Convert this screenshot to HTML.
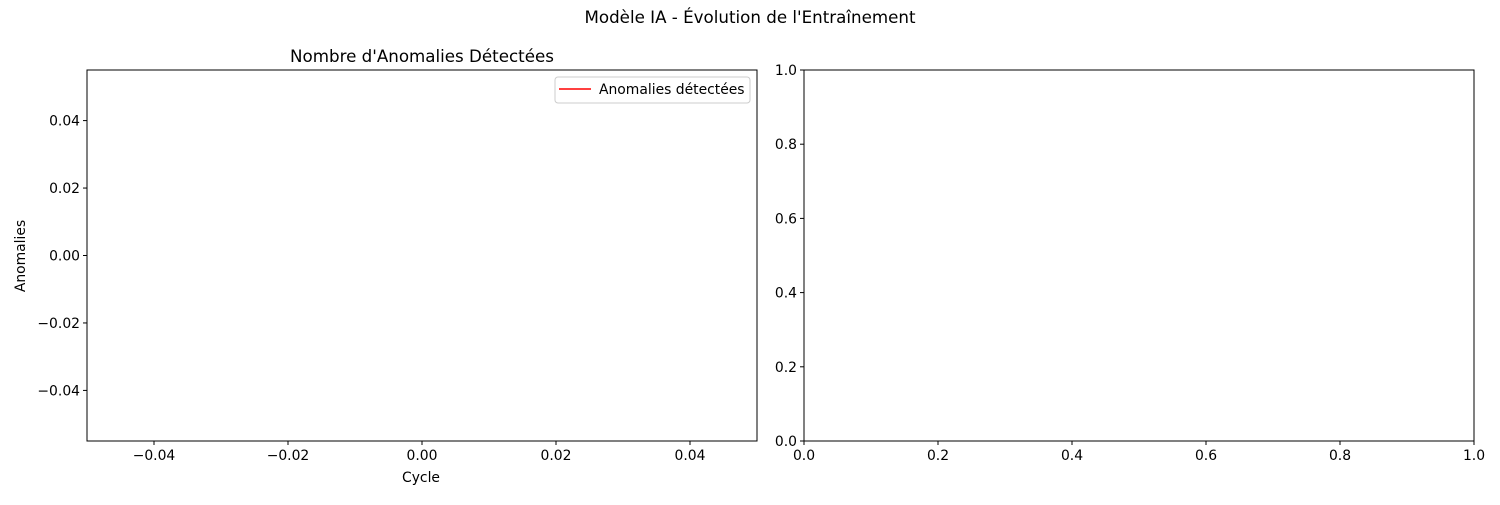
<!DOCTYPE html>
<html><head><meta charset="utf-8">
<style>
body{margin:0;background:#fff;font-family:"Liberation Sans","DejaVu Sans",sans-serif;}
svg text{font-family:"DejaVu Sans","Liberation Sans",sans-serif;fill:#000;}
</style></head>
<body>
<svg id="fig" width="1500" height="500" viewBox="0 0 1500 500">
<rect width="1500" height="500" fill="#fff"/>
<text x="750" y="23" font-size="16.7" text-anchor="middle">Modèle IA - Évolution de l'Entraînement</text>
<g id="left"></g>
<g id="right"></g>
</svg>
<script>
const cycles = [];
const anomalies = [];
const leftXTicks = [-0.04, -0.02, 0.00, 0.02, 0.04];
const leftYTicks = [-0.04, -0.02, 0.00, 0.02, 0.04];
const rightTicks = [0.0, 0.2, 0.4, 0.6, 0.8, 1.0];

const NS = "http://www.w3.org/2000/svg";
const FS = 13.9;
function mk(parent, tag, attrs, txt){
  const e = document.createElementNS(NS, tag);
  for (const k in attrs) e.setAttribute(k, attrs[k]);
  if (txt !== undefined) e.textContent = txt;
  parent.appendChild(e);
  return e;
}
function fmt(v, d){ const s = Math.abs(v).toFixed(d); return (v < 0 ? "\u2212" : "") + s; }

function axes(g, L, T, W, H, xmin, xmax, ymin, ymax, xt, yt, dec){
  const sx = v => L + (v - xmin) / (xmax - xmin) * W;
  const sy = v => T + H - (v - ymin) / (ymax - ymin) * H;
  const fr = mk(g, "rect", {x:L, y:T, width:W, height:H, fill:"none", stroke:"#000", "stroke-width":1});
  
  
  xt.forEach(v => {
    const x = sx(v);
    mk(g, "line", {x1:x, x2:x, y1:T+H, y2:T+H+4, stroke:"#000"});
    const t = mk(g, "text", {x:x, y:T+H+19, "font-size":FS, "text-anchor":"middle"}, fmt(v, dec));
    
    
  });
  yt.forEach(v => {
    const y = sy(v);
    mk(g, "line", {x1:L-4, x2:L, y1:y, y2:y, stroke:"#000"});
    const t = mk(g, "text", {x:L-7, y:y+5, "font-size":FS, "text-anchor":"end"}, fmt(v, dec));
    
    
  });
  return {sx, sy};
}

const lg = document.getElementById("left");
const la = axes(lg, 87, 70, 670, 371, -0.05, 0.05, -0.055, 0.055, leftXTicks, leftYTicks, 2);
if (cycles.length) {
  const pts = cycles.map((c, i) => la.sx(c) + "," + la.sy(anomalies[i])).join(" ");
  const pl = mk(lg, "polyline", {points:pts, fill:"none", stroke:"red", "stroke-width":1.5});
  
  
}
let t = mk(lg, "text", {x:422, y:62, "font-size":16.7, "text-anchor":"middle"}, "Nombre d'Anomalies Détectées");


t = mk(lg, "text", {x:421, y:482, "font-size":FS, "text-anchor":"middle"}, "Cycle");


t = mk(lg, "text", {x:25, y:256, "font-size":FS, "text-anchor":"middle", transform:"rotate(-90 25 256)"}, "Anomalies");


const leg = mk(lg, "g", {});


mk(leg, "rect", {x:555, y:77, width:195, height:26, rx:3, fill:"#fff", stroke:"#ccc"});
mk(leg, "line", {x1:559, x2:591, y1:89, y2:89, stroke:"red", "stroke-width":1.5});
t = mk(leg, "text", {x:599, y:94, "font-size":FS}, "Anomalies détectées");



const rg = document.getElementById("right");
axes(rg, 804, 70, 670, 371, 0, 1, 0, 1, rightTicks, rightTicks, 1);
</script>
</body></html>
